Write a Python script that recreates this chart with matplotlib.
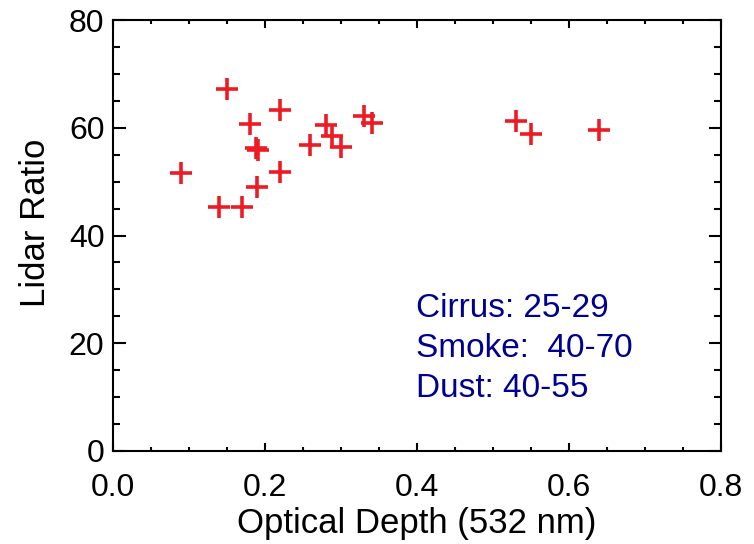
import matplotlib.pyplot as plt
from matplotlib.ticker import MultipleLocator

# Optical depth at 532 nm and retrieved lidar ratio for each case
optical_depth = [0.090, 0.150, 0.140, 0.170, 0.181, 0.190, 0.189, 0.191,
                 0.220, 0.220, 0.260, 0.280, 0.288, 0.300, 0.330, 0.341,
                 0.530, 0.550, 0.640]
lidar_ratio = [51.6, 67.2, 45.3, 45.3, 60.7, 49.0, 56.3, 55.8,
               63.3, 51.8, 56.9, 60.5, 58.4, 56.5, 62.2, 60.9,
               61.3, 58.8, 59.6]

notes = ["Cirrus: 25-29", "Smoke:  40-70", "Dust: 40-55"]

plt.rcParams['font.family'] = ['Liberation Sans', 'DejaVu Sans']

fig = plt.figure(figsize=(7.54, 5.44), dpi=100)
ax = fig.add_axes([0.1495, 0.171, 0.8065, 0.792])

ax.plot(optical_depth, lidar_ratio, linestyle='none', marker='+',
        markersize=16, markeredgewidth=2.6, color='#ed1c24')

ax.set_xlim(0.0, 0.8)
ax.set_ylim(0, 80)
ax.xaxis.set_major_locator(MultipleLocator(0.2))
ax.xaxis.set_minor_locator(MultipleLocator(0.05))
ax.yaxis.set_major_locator(MultipleLocator(20))
ax.yaxis.set_minor_locator(MultipleLocator(5))
ax.set_xticklabels([f"{v:.1f}" for v in ax.get_xticks()])

for spine in ax.spines.values():
    spine.set_linewidth(1.5)

ax.tick_params(which='both', direction='in', top=True, right=True,
               width=1.5, labelsize=23, colors='black')
ax.tick_params(axis='x', which='major', length=6, pad=16)
ax.tick_params(axis='x', which='minor', length=3)
ax.tick_params(axis='y', which='major', length=9, pad=6)
ax.tick_params(axis='y', which='minor', length=5)

ax.set_xlabel('Optical Depth (532 nm)', fontsize=25, labelpad=3)
ax.set_ylabel('Lidar Ratio', fontsize=25)
ax.yaxis.set_label_coords(-0.1, 0.53)

# reference lidar ratios by aerosol type
for i, line in enumerate(notes):
    ax.text(0.399, 24.86 - i * 7.42, line, fontsize=24, color='#000090',
            ha='left', va='baseline')

fig.savefig('out.png', dpi=100)
